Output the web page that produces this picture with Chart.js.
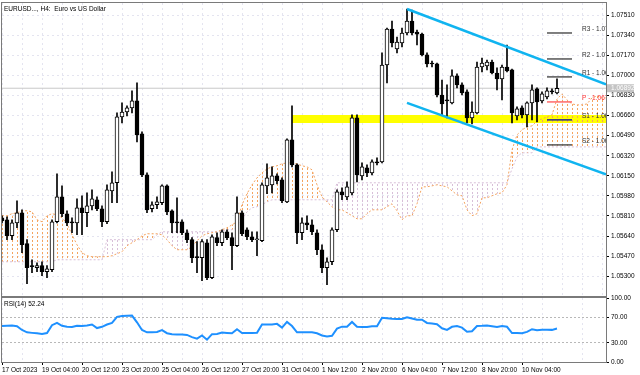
<!DOCTYPE html>
<html lang="en">
<head>
<meta charset="UTF-8" />
<title>EURUSD H4 - Euro vs US Dollar</title>
<script src="https://cdn.jsdelivr.net/npm/chart.js"></script>
<style>
  body { margin: 0; background: #fff; }
  #wrap { position: relative; width: 640px; height: 375px; overflow: hidden; }
  #mainBox { position: absolute; left: 0; top: 0; width: 640px; height: 297px; }
  #rsiBox { position: absolute; left: 0; top: 295px; width: 640px; height: 80px; }
</style>
</head>
<body>
<div id="wrap">
  <div id="mainBox"><canvas id="mainChart"></canvas></div>
  <div id="rsiBox"><canvas id="rsiChart"></canvas></div>
</div>
<script>
// ---- data (H4 bars, index 0 = first visible bar) ----
const timeLabels = ['17 Oct 2023', '19 Oct 04:00', '20 Oct 12:00', '23 Oct 20:00', '25 Oct 04:00',
  '26 Oct 12:00', '27 Oct 20:00', '31 Oct 04:00', '1 Nov 12:00', '2 Nov 20:00',
  '6 Nov 04:00', '7 Nov 12:00', '8 Nov 20:00', '10 Nov 04:00'];

const opens = [
  1.05795,1.05778,1.05642,1.05752,1.05837,1.05575,1.05389,1.05372,1.05389,1.05338,
  1.05355,1.05761,1.05972,1.05829,1.05761,1.05752,1.05879,1.05837,1.05896,1.05947,
  1.05871,1.05761,1.06023,1.06091,1.06649,1.06691,1.06725,1.06785,1.06505,1.06158,
  1.05871,1.05905,1.05922,1.06065,1.05854,1.05761,1.05761,1.05668,1.05609,1.05465,
  1.05456,1.05583,1.05287,1.05626,1.05583,1.05676,1.05626,1.05558,1.05837,1.05693,
  1.05634,1.05609,1.05600,1.06065,1.06074,1.06150,1.06116,1.05930,1.06455,1.06243,
  1.05668,1.05752,1.05735,1.05668,1.05524,1.05372,1.05422,1.05693,1.06015,1.05972,
  1.06006,1.06641,1.06150,1.06218,1.06175,1.06268,1.06268,1.07089,1.07394,1.07224,
  1.07275,1.07360,1.07461,1.07368,1.07351,1.07174,1.07106,1.07098,1.06835,1.06793,
  1.06768,1.06996,1.06920,1.06861,1.06641,1.06683,1.07072,1.07081,1.07114,1.07021,
  1.06971,1.07072,1.07047,1.06658,1.06725,1.06666,1.06768,1.06886,1.06785,1.06818,
  1.06869,1.06852];
const highs = [
  1.05812,1.05803,1.05778,1.05939,1.05862,1.05609,1.05439,1.05414,1.05422,1.05389,
  1.05778,1.06167,1.06065,1.05854,1.05795,1.05955,1.05981,1.06006,1.06032,1.05972,
  1.05896,1.06074,1.06184,1.06683,1.06768,1.06742,1.06869,1.06937,1.06522,1.06175,
  1.05930,1.05972,1.06074,1.06074,1.05862,1.05964,1.05778,1.05693,1.05626,1.05592,
  1.05609,1.05609,1.05651,1.05668,1.05693,1.05693,1.05668,1.05972,1.05854,1.05710,
  1.05676,1.05676,1.06091,1.06252,1.06226,1.06167,1.06133,1.06463,1.06742,1.06252,
  1.05795,1.05812,1.05778,1.05693,1.05566,1.05456,1.05710,1.06032,1.06048,1.06099,
  1.06666,1.06666,1.06260,1.06243,1.06285,1.06302,1.07191,1.07402,1.07461,1.07326,
  1.07402,1.07563,1.07554,1.07385,1.07360,1.07191,1.07123,1.07106,1.06962,1.06920,
  1.07047,1.07013,1.06937,1.06878,1.06776,1.07114,1.07148,1.07131,1.07131,1.07064,
  1.07089,1.07258,1.07055,1.06734,1.06742,1.06776,1.06920,1.06895,1.06861,1.06895,
  1.06886,1.06971];
const lows = [
  1.05752,1.05609,1.05609,1.05710,1.05499,1.05236,1.05329,1.05338,1.05304,1.05287,
  1.05338,1.05752,1.05803,1.05727,1.05668,1.05651,1.05651,1.05719,1.05862,1.05854,
  1.05719,1.05744,1.05922,1.05922,1.06598,1.06658,1.06683,1.06438,1.06142,1.05837,
  1.05845,1.05871,1.05905,1.05820,1.05668,1.05668,1.05651,1.05583,1.05414,1.05329,
  1.05262,1.05270,1.05279,1.05558,1.05558,1.05609,1.05355,1.05549,1.05642,1.05609,
  1.05592,1.05473,1.05592,1.05998,1.06006,1.06082,1.05922,1.05922,1.06226,1.05575,
  1.05609,1.05693,1.05651,1.05482,1.05329,1.05228,1.05397,1.05676,1.05947,1.05947,
  1.05989,1.06099,1.06116,1.06142,1.06158,1.06243,1.06260,1.06937,1.07241,1.07191,
  1.07241,1.07343,1.07343,1.07258,1.07165,1.07072,1.07072,1.06818,1.06666,1.06641,
  1.06759,1.06895,1.06835,1.06598,1.06590,1.06675,1.07030,1.07047,1.07013,1.06878,
  1.06793,1.07030,1.06598,1.06624,1.06641,1.06565,1.06624,1.06607,1.06768,1.06801,
  1.06844,1.06844];
const closes = [
  1.05769,1.05642,1.05752,1.05837,1.05566,1.05372,1.05380,1.05389,1.05338,1.05363,
  1.05761,1.05972,1.05829,1.05752,1.05752,1.05879,1.05837,1.05896,1.05955,1.05871,
  1.05761,1.06032,1.06091,1.06649,1.06691,1.06725,1.06785,1.06497,1.06158,1.05862,
  1.05905,1.05930,1.06065,1.05845,1.05752,1.05752,1.05668,1.05609,1.05456,1.05456,
  1.05592,1.05287,1.05634,1.05583,1.05676,1.05626,1.05558,1.05837,1.05659,1.05634,
  1.05609,1.05617,1.06074,1.06133,1.06150,1.06108,1.05939,1.06455,1.06243,1.05668,
  1.05752,1.05735,1.05676,1.05524,1.05372,1.05422,1.05693,1.06015,1.05989,1.06057,
  1.06641,1.06158,1.06226,1.06175,1.06268,1.06260,1.07089,1.07394,1.07275,1.07284,
  1.07360,1.07461,1.07360,1.07351,1.07174,1.07098,1.07098,1.06835,1.06759,1.06785,
  1.06996,1.06920,1.06852,1.06641,1.06691,1.07072,1.07106,1.07114,1.07021,1.06971,
  1.07072,1.07038,1.06683,1.06717,1.06666,1.06768,1.06878,1.06776,1.06844,1.06869,
  1.06861,1.06892];

// Ichimoku cloud edges (shifted forward, so they run past the last bar)
const spanA = [
  1.05812,1.05812,1.05829,1.05837,1.05854,1.05854,1.05845,1.05778,1.05761,1.05812,
  1.05829,1.05820,1.05795,1.05744,1.05651,1.05566,1.05499,1.05473,1.05465,1.05465,
  1.05465,1.05465,1.05473,1.05490,1.05507,1.05558,1.05583,1.05609,1.05642,1.05659,
  1.05659,1.05659,1.05651,1.05609,1.05558,1.05524,1.05524,1.05524,1.05549,1.05600,
  1.05642,1.05659,1.05668,1.05676,1.05693,1.05710,1.05735,1.05761,1.05905,1.05998,
  1.06074,1.06133,1.06175,1.06209,1.06226,1.06235,1.06252,1.06260,1.06260,1.06252,
  1.06235,1.06226,1.06201,1.06074,1.05972,1.05930,1.05888,1.05862,1.05862,1.05837,
  1.05812,1.05786,1.05786,1.05829,1.05862,1.05862,1.05862,1.05888,1.05913,1.05854,
  1.05778,1.05812,1.05812,1.05913,1.06057,1.06057,1.06065,1.06074,1.06065,1.06057,
  1.06023,1.05989,1.05981,1.05862,1.05812,1.05829,1.05964,1.05964,1.05981,1.05998,
  1.06006,1.06074,1.06370,1.06497,1.06539,1.06565,1.06573,1.06615,1.06632,1.06649,
  1.06666,1.06801,1.06844,1.06793,1.06759,1.06751,1.06751,1.06759,1.06810,1.06827,
  1.06810,1.06810];
const spanB = [
  1.05422,1.05422,1.05422,1.05422,1.05422,1.05422,1.05422,1.05422,1.05422,1.05422,
  1.05422,1.05439,1.05439,1.05439,1.05439,1.05439,1.05439,1.05439,1.05439,1.05439,
  1.05439,1.05609,1.05609,1.05609,1.05609,1.05609,1.05609,1.05609,1.05609,1.05609,
  1.05609,1.05651,1.05676,1.05676,1.05676,1.05676,1.05676,1.05676,1.05676,1.05676,
  1.05676,1.05676,1.05676,1.05676,1.05685,1.05693,1.05693,1.05710,1.05778,1.05845,
  1.05879,1.05888,1.05905,1.05930,1.05947,1.05947,1.05947,1.05947,1.05947,1.05947,
  1.05947,1.05947,1.05947,1.05947,1.05947,1.05947,1.05947,1.06091,1.06091,1.06091,
  1.06091,1.06091,1.06091,1.06091,1.06091,1.06091,1.06091,1.06091,1.06091,1.06091,
  1.06091,1.06091,1.06091,1.06091,1.06091,1.06091,1.06091,1.06091,1.06091,1.06091,
  1.06091,1.06091,1.06091,1.06091,1.06091,1.06091,1.06091,1.06091,1.06091,1.06091,
  1.06091,1.06091,1.06209,1.06311,1.06345,1.06345,1.06345,1.06395,1.06395,1.06395,
  1.06395,1.06395,1.06395,1.06395,1.06395,1.06395,1.06395,1.06395,1.06395,1.06395,
  1.06395,1.06395];

const rsiValues = [
  56.2,56.6,57.0,56.0,50.0,46.3,45.5,44.8,43.8,45.3,
  57.5,61.1,56.5,55.0,54.7,56.5,56.4,57.0,58.6,53.0,
  55.0,58.6,61.1,70.5,72.0,72.3,72.5,62.0,50.0,46.3,
  46.3,47.0,49.8,45.0,43.5,43.0,42.8,42.3,38.9,36.5,
  41.4,34.9,43.5,43.8,46.0,45.5,44.8,51.2,45.3,45.3,
  45.3,45.5,58.6,58.6,58.6,59.6,53.7,62.6,56.2,46.3,
  46.3,46.3,46.3,44.8,41.5,40.0,41.0,52.2,55.2,55.2,
  62.6,55.0,54.7,54.7,55.7,56.0,69.0,68.5,67.5,67.0,
  67.2,70.0,68.0,66.0,66.0,61.0,60.0,59.1,52.7,50.2,
  55.0,56.2,53.7,47.3,48.0,56.2,56.6,57.2,56.0,54.7,
  56.2,55.0,45.3,45.5,44.8,47.0,51.2,49.8,50.5,50.5,
  50.2,52.24];

const priceTicks = [1.07510, 1.07340, 1.07170, 1.07000, 1.06830, 1.06660, 1.06490,
  1.06320, 1.06150, 1.05980, 1.05810, 1.05640, 1.05470, 1.05300];
const rsiTicks = [0, 30, 70, 100];
const rsiLevels = [30, 70];

const pivotNames = ['R3', 'R2', 'R1', 'P', 'S1', 'S2'];
const pivotLevels = [1.07360, 1.07140, 1.06988, 1.06776, 1.06624, 1.06412];
const pivotBars = [109, 114];

const channelBars = [81, 120.8];
const channelUpper = [1.07563, 1.06925];
const channelLower = [1.06768, 1.06162];

const zoneBars = [58, 121];
const zoneLevels = [1.06666, 1.06598];
const bidPrice = 1.06892;
const rsiNow = 52.24;

// ---- look ----
const barMax = 120.8;          // right edge of the plot, in bars
const priceMin = 1.05132, priceMax = 1.07614;
const gridColor = '#e4e4f0';
const frameColor = '#7a7a7a';
const tiny = { family: '"Liberation Sans", Arial, sans-serif', size: 6.5 };
Chart.defaults.font.family = tiny.family;

function hatch(color) {
  const c = document.createElement('canvas');
  c.width = 5; c.height = 4;
  const g = c.getContext('2d');
  g.fillStyle = color;
  g.fillRect(2, 0, 1, 2);
  return g.createPattern(c, 'repeat');
}

const gridBars = [];
for (let i = 0; i <= 120; i += 4) gridBars.push(i);

function frame(chart) {
  const { ctx, chartArea: a } = chart;
  ctx.save();
  ctx.strokeStyle = frameColor;
  ctx.lineWidth = 1;
  ctx.strokeRect(a.left - 0.5, a.top - 0.5, a.right - a.left + 1, a.bottom - a.top + 1);
  ctx.restore();
}

const mainOverlay = {
  id: 'mainOverlay',
  afterDatasetsDraw(chart) {
    const { ctx, chartArea: a, scales: { x, y } } = chart;
    ctx.save();
    ctx.beginPath();
    ctx.rect(a.left, a.top, a.right - a.left, a.bottom - a.top);
    ctx.clip();
    ctx.font = '6.5px ' + tiny.family;
    ctx.textBaseline = 'middle';
    pivotNames.forEach((n, k) => {
      ctx.fillStyle = n === 'P' ? '#ff2f2f' : '#303030';
      ctx.fillText(n + ' - ' + pivotLevels[k].toFixed(5), x.getPixelForValue(116), y.getPixelForValue(pivotLevels[k]) - 4);
    });
    ctx.fillStyle = '#000';
    ctx.fillText('EURUSD..., H4:  Euro vs US Dollar', a.left + 2, a.top + 6);
    ctx.restore();
    frame(chart);
    // bid price box on the axis
    const by = y.getPixelForValue(bidPrice);
    ctx.save();
    ctx.fillStyle = '#c4c4c4';
    ctx.fillRect(a.right + 1, by - 4, 27, 8);
    ctx.fillStyle = '#fff';
    ctx.font = '6.5px ' + tiny.family;
    ctx.textBaseline = 'middle';
    ctx.fillText(bidPrice.toFixed(5), a.right + 5, by);
    ctx.restore();
  }
};

const rsiOverlay = {
  id: 'rsiOverlay',
  afterDatasetsDraw(chart) {
    const { ctx, chartArea: a } = chart;
    frame(chart);
    ctx.save();
    ctx.fillStyle = '#000';
    ctx.font = '6.5px ' + tiny.family;
    ctx.textBaseline = 'middle';
    ctx.fillText('RSI(14) ' + rsiNow.toFixed(2), a.left + 2, a.top + 6);
    ctx.restore();
  }
};

const orangeHatch = hatch('#f4a460');
const thistleHatch = hatch('#d8bfd8');

const lineOf = (bars, vals) => bars.map((b, k) => ({ x: b, y: vals[k] }));

const mainSets = [
  // 0,1: yellow zone
  { type: 'line', order: 30, data: lineOf(zoneBars, [zoneLevels[0], zoneLevels[0]]),
    borderWidth: 0, pointRadius: 0, backgroundColor: '#ffff00', fill: { target: 1 } },
  { type: 'line', order: 31, data: lineOf(zoneBars, [zoneLevels[1], zoneLevels[1]]),
    borderWidth: 0, pointRadius: 0, fill: false },
  // 2,3: cloud
  { type: 'line', order: 20, data: spanA.map((v, i) => ({ x: i, y: v })),
    borderColor: '#f4a460', borderWidth: 1, borderDash: [2, 2], pointRadius: 0,
    fill: { target: 3, above: orangeHatch, below: thistleHatch } },
  { type: 'line', order: 21, data: spanB.map((v, i) => ({ x: i, y: v })),
    borderColor: '#d8bfd8', borderWidth: 1, borderDash: [2, 2], pointRadius: 0, fill: false },
  // bid line
  { type: 'line', order: 15, data: lineOf([0, 121], [bidPrice, bidPrice]),
    borderColor: '#c8c8c8', borderWidth: 1, pointRadius: 0, fill: false },
  // candle wicks and bodies
  { type: 'bar', order: 6, grouped: false, barThickness: 1,
    data: lows.map((l, i) => ({ x: i, y: [l, highs[i]] })), backgroundColor: '#000' },
  { type: 'bar', order: 5, grouped: false, barThickness: 4,
    data: opens.map((o, i) => ({ x: i, y: [o, closes[i]] })),
    backgroundColor: opens.map((o, i) => closes[i] >= o ? '#ffffff' : '#000000'),
    borderColor: '#000', borderWidth: 1, borderSkipped: false },
  // channel
  { type: 'line', order: 1, data: lineOf(channelBars, channelUpper),
    borderColor: '#10b4f0', borderWidth: 2.5, pointRadius: 0, fill: false },
  { type: 'line', order: 1, data: lineOf(channelBars, channelLower),
    borderColor: '#10b4f0', borderWidth: 2.5, pointRadius: 0, fill: false }
];
pivotNames.forEach((n, k) => {
  mainSets.push({ type: 'line', order: 2, data: lineOf(pivotBars, [pivotLevels[k], pivotLevels[k]]),
    borderColor: n === 'P' ? '#ff6a6a' : (n === 'S1' ? '#2b2b8c' : '#555555'),
    borderWidth: 1.5, pointRadius: 0, fill: false });
});

new Chart(document.getElementById('mainChart'), {
  type: 'bar',
  data: { datasets: mainSets },
  options: {
    responsive: true, maintainAspectRatio: false, animation: false,
    layout: { padding: { left: 2, top: 3, right: 0, bottom: 0 } },
    plugins: { legend: { display: false }, tooltip: { enabled: false } },
    scales: {
      x: {
        type: 'linear', min: 0, max: barMax, offset: false,
        grid: { offset: false, color: gridColor, drawTicks: false },
        border: { display: false, dash: [2, 3] },
        ticks: { display: false },
        afterBuildTicks: s => { s.ticks = gridBars.map(v => ({ value: v })); },
        afterFit: s => { s.height = 1; s.paddingLeft = 0; s.paddingRight = 0; }
      },
      y: {
        position: 'right', min: priceMin, max: priceMax,
        grid: { color: gridColor, tickColor: '#000', tickLength: 3, tickBorderDash: [] },
        border: { display: false, dash: [2, 3] },
        ticks: { font: tiny, color: '#000', padding: 2, callback: v => v.toFixed(5) },
        afterBuildTicks: s => { s.ticks = priceTicks.map(v => ({ value: v })); },
        afterFit: s => { s.width = 34; s.paddingTop = 0; s.paddingBottom = 0; }
      }
    }
  },
  plugins: [mainOverlay]
});

new Chart(document.getElementById('rsiChart'), {
  type: 'line',
  data: {
    datasets: [{
      data: rsiValues.map((v, i) => ({ x: i, y: v })),
      borderColor: '#1e90ff', borderWidth: 2, pointRadius: 0, fill: false
    }]
  },
  options: {
    responsive: true, maintainAspectRatio: false, animation: false,
    layout: { padding: { left: 2, top: 3, right: 0, bottom: 0 } },
    plugins: { legend: { display: false }, tooltip: { enabled: false } },
    scales: {
      x: {
        type: 'linear', min: 0, max: barMax,
        grid: {
          color: gridColor, tickLength: 3, tickBorderDash: [],
          tickColor: c => (c.tick && c.tick.value % 8 === 0) ? '#000' : 'rgba(0,0,0,0)'
        },
        border: { display: false, dash: [2, 3] },
        ticks: {
          font: tiny, color: '#000', align: 'start', padding: 1, maxRotation: 0, autoSkip: false,
          callback: v => v % 8 === 0 ? timeLabels[v / 8] : ''
        },
        afterBuildTicks: s => { s.ticks = gridBars.map(v => ({ value: v })); },
        afterFit: s => { s.height = 13; s.paddingLeft = 0; s.paddingRight = 0; }
      },
      y: {
        position: 'right', min: 0, max: 100,
        grid: {
          color: c => (c.tick && rsiLevels.includes(c.tick.value)) ? '#b8b8b8' : 'rgba(0,0,0,0)',
          tickColor: '#000', tickLength: 3, tickBorderDash: []
        },
        border: { display: false, dash: [2, 2] },
        ticks: { font: tiny, color: '#000', padding: 2, callback: v => v.toFixed(2) },
        afterBuildTicks: s => { s.ticks = rsiTicks.map(v => ({ value: v })); },
        afterFit: s => { s.width = 34; s.paddingTop = 0; s.paddingBottom = 0; }
      }
    }
  },
  plugins: [rsiOverlay]
});
</script>
</body>
</html>
